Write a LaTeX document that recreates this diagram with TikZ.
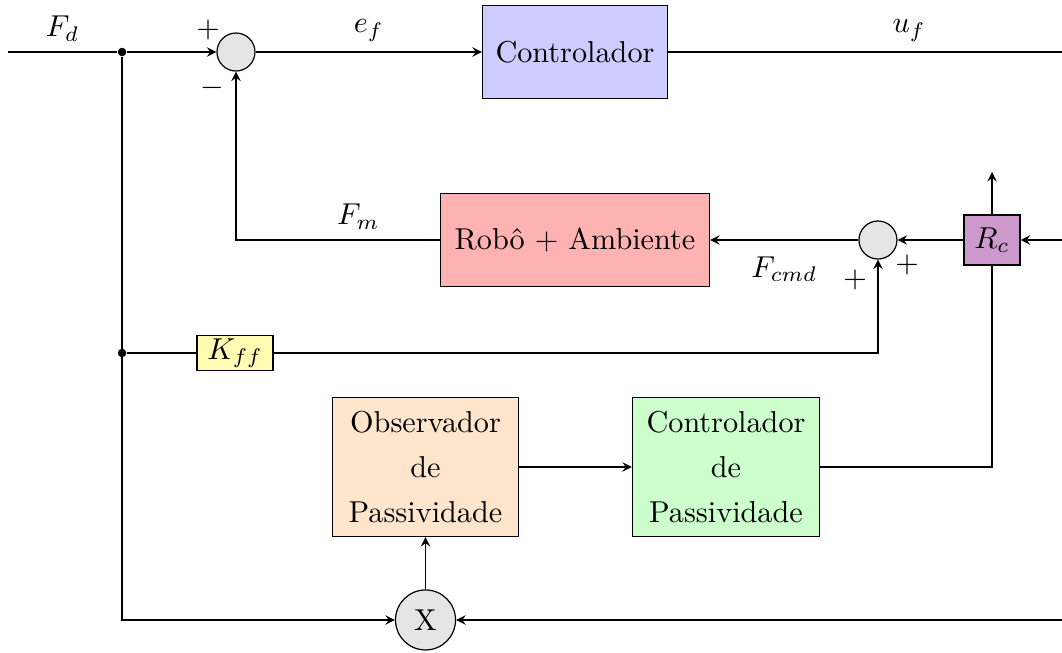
\documentclass[tikz,border=0pt]{standalone}
\usepackage{amsmath}
\usepackage{amssymb}

\tikzset{
	bloco/.style = {draw, rectangle, minimum height = 1.081cm, align = center},
	soma/.style = {draw, circle, fill = gray!20, minimum size = 0.442cm, inner sep = 0pt},
	ponto/.style = {circle, fill, inner sep = 1pt},
}

\begin{document}
\begin{tikzpicture}[>=stealth]%controle de forca
	\useasboundingbox (0,0) rectangle (12.349,-7.593);
	\coordinate (IN) at (0.093,-0.605);
	\node[ponto](J1) at (1.419,-0.605){};
	\node[soma](S1) at (2.744,-0.605){};
	\node[bloco, fill = blue!20, minimum width = 2.151cm](CTRL) at (6.686,-0.605){Controlador};
	\coordinate (OUT) at (12.44,-0.605);
	\node[bloco, fill = red!30, minimum width = 3.128cm](ROBO) at (6.686,-2.791){Robô $+$ Ambiente};
	\node[soma](S2) at (10.209,-2.791){};
	\node[bloco, fill = violet!40, minimum width = 0.651cm, minimum height = 0.581cm](RC) at (11.535,-2.791){$R_c$};
	\coordinate (RCin) at (12.44,-2.791);
	\coordinate (RCup) at (11.535,-2.0);
	\node[ponto](J2) at (1.419,-4.105){};
	\node[bloco, fill = yellow!30, minimum width = 0.884cm, minimum height = 0.395cm, inner sep = 1pt](KFF) at (2.733,-4.105){$K_{ff}$};
	\node[bloco, fill = orange!20, minimum width = 2.163cm, minimum height = 1.616cm](OBS) at (4.948,-5.430){Observador\\[3pt]de\\[3pt]Passividade};
	\node[bloco, fill = green!20, minimum width = 2.174cm, minimum height = 1.616cm](CP) at (8.442,-5.430){Controlador\\[3pt]de\\[3pt]Passividade};
	\node[soma, minimum size = 0.698cm](X) at (4.948,-7.209){X};
	\coordinate (Xin) at (12.44,-7.209);
	\node(P1) at (2.419,-0.349){$+$};
	\node(M1) at (2.465,-1.023){$-$};
	\node(P2) at (9.942,-3.256){$+$};
	\node(P3) at (10.547,-3.081){$+$};
	\draw
	(IN) -- node[above]{$F_d$} (J1);
	\draw[->] (J1) -- (S1.west);
	\draw[->] (S1.east) -- node[above]{$e_f$} (CTRL.west);
	\draw (CTRL.east) -- node[above, pos = 0.6]{$u_f$} (OUT);
	\draw[->] (ROBO.west) -| node[above, pos = 0.2]{$F_m$} (S1.south);
	\draw[->] (S2.west) -- node[below, yshift = -2pt]{$F_{cmd}$} (ROBO.east);
	\draw[->] (RC.west) -- (S2.east);
	\draw[->] (RCin) -- (RC.east);
	\draw[->] (RC.north) -- (RCup);
	\draw (RC.south) |- (CP.east);
	\draw (J2) -- (KFF.west);
	\draw[->] (KFF.east) -| (S2.south);
	\draw[->] (J1) |- (X.west);
	\draw[->] (OBS.east) -- (CP.west);
	\draw[->] (X.north) -- (OBS.south);
	\draw[->] (Xin) -- (X.east);
\end{tikzpicture}
\end{document}
